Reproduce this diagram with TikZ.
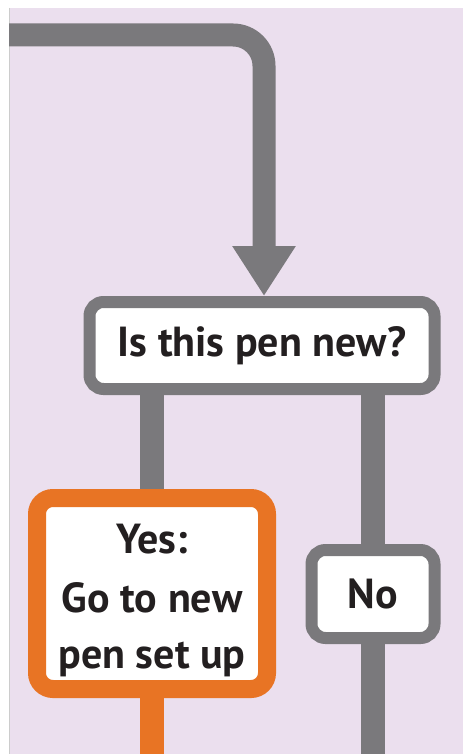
\documentclass[tikz,border=0pt]{standalone}
\usepackage{fontspec}
\setmainfont{PT Sans}
\usetikzlibrary{arrows.meta}
\definecolor{bgpurple}{HTML}{EBDFEE}
\definecolor{flowgray}{HTML}{7A797C}
\definecolor{floworange}{HTML}{E87424}
\definecolor{inkblack}{HTML}{231F20}
\tikzset{
  flowline/.style={line width=23pt, flowgray},
  boxtext/.style={text=inkblack, font=\bfseries\fontsize{42}{56}\selectfont},
  qbox/.style={draw=flowgray, fill=white, line width=12pt, rounded corners=14pt,
    inner sep=0pt, boxtext},
  yesbox/.style={draw=floworange, fill=white, line width=18pt, rounded corners=16pt,
    inner sep=0pt},
  yestext/.style={boxtext, align=center, inner sep=0pt},
  nobox/.style={draw=flowgray, fill=white, line width=12pt, rounded corners=14pt,
    inner sep=0pt, boxtext},
}
\begin{document}
\begin{tikzpicture}[x=1pt,y=-1pt]
\useasboundingbox (0,0) rectangle (463,754);
\fill[white] (0,0) rectangle (463,754);
\fill[bgpurple] (9,8) rectangle (463,754);
\draw[black!20, line width=0.8pt] (9.4,8) -- (9.4,754);

\node[qbox, minimum width=345pt, minimum height=87pt] (q) at (262,345.5) {Is this pen new?};
\node[yesbox, minimum width=230pt, minimum height=191pt] (yes) at (152,593.5) {};
\node[yestext] (yeslabel) at ([yshift=-6.5pt]yes.center) {Yes:\\[3pt]Go to new\\pen set up};
\node[nobox, minimum width=123pt, minimum height=88pt] (no) at (373,594) {No};

\coordinate (start) at (9,35);
\coordinate (yesend) at (152,754);
\coordinate (noend) at (373,754);

\draw[flowline, rounded corners=31pt, -{Triangle[width=60pt,length=50pt]}]
  (start) -| ([xshift=2pt]q.north);
\draw[flowline, line width=24pt] (yes.north |- q.south) -- (yes.north);
\draw[flowline, line width=24pt] (no.north |- q.south) -- (no.north);
\draw[flowline, line width=24pt] (no.south) -- (noend);
\draw[flowline, line width=24pt, floworange] (yes.south) -- (yesend);
\end{tikzpicture}
\end{document}
